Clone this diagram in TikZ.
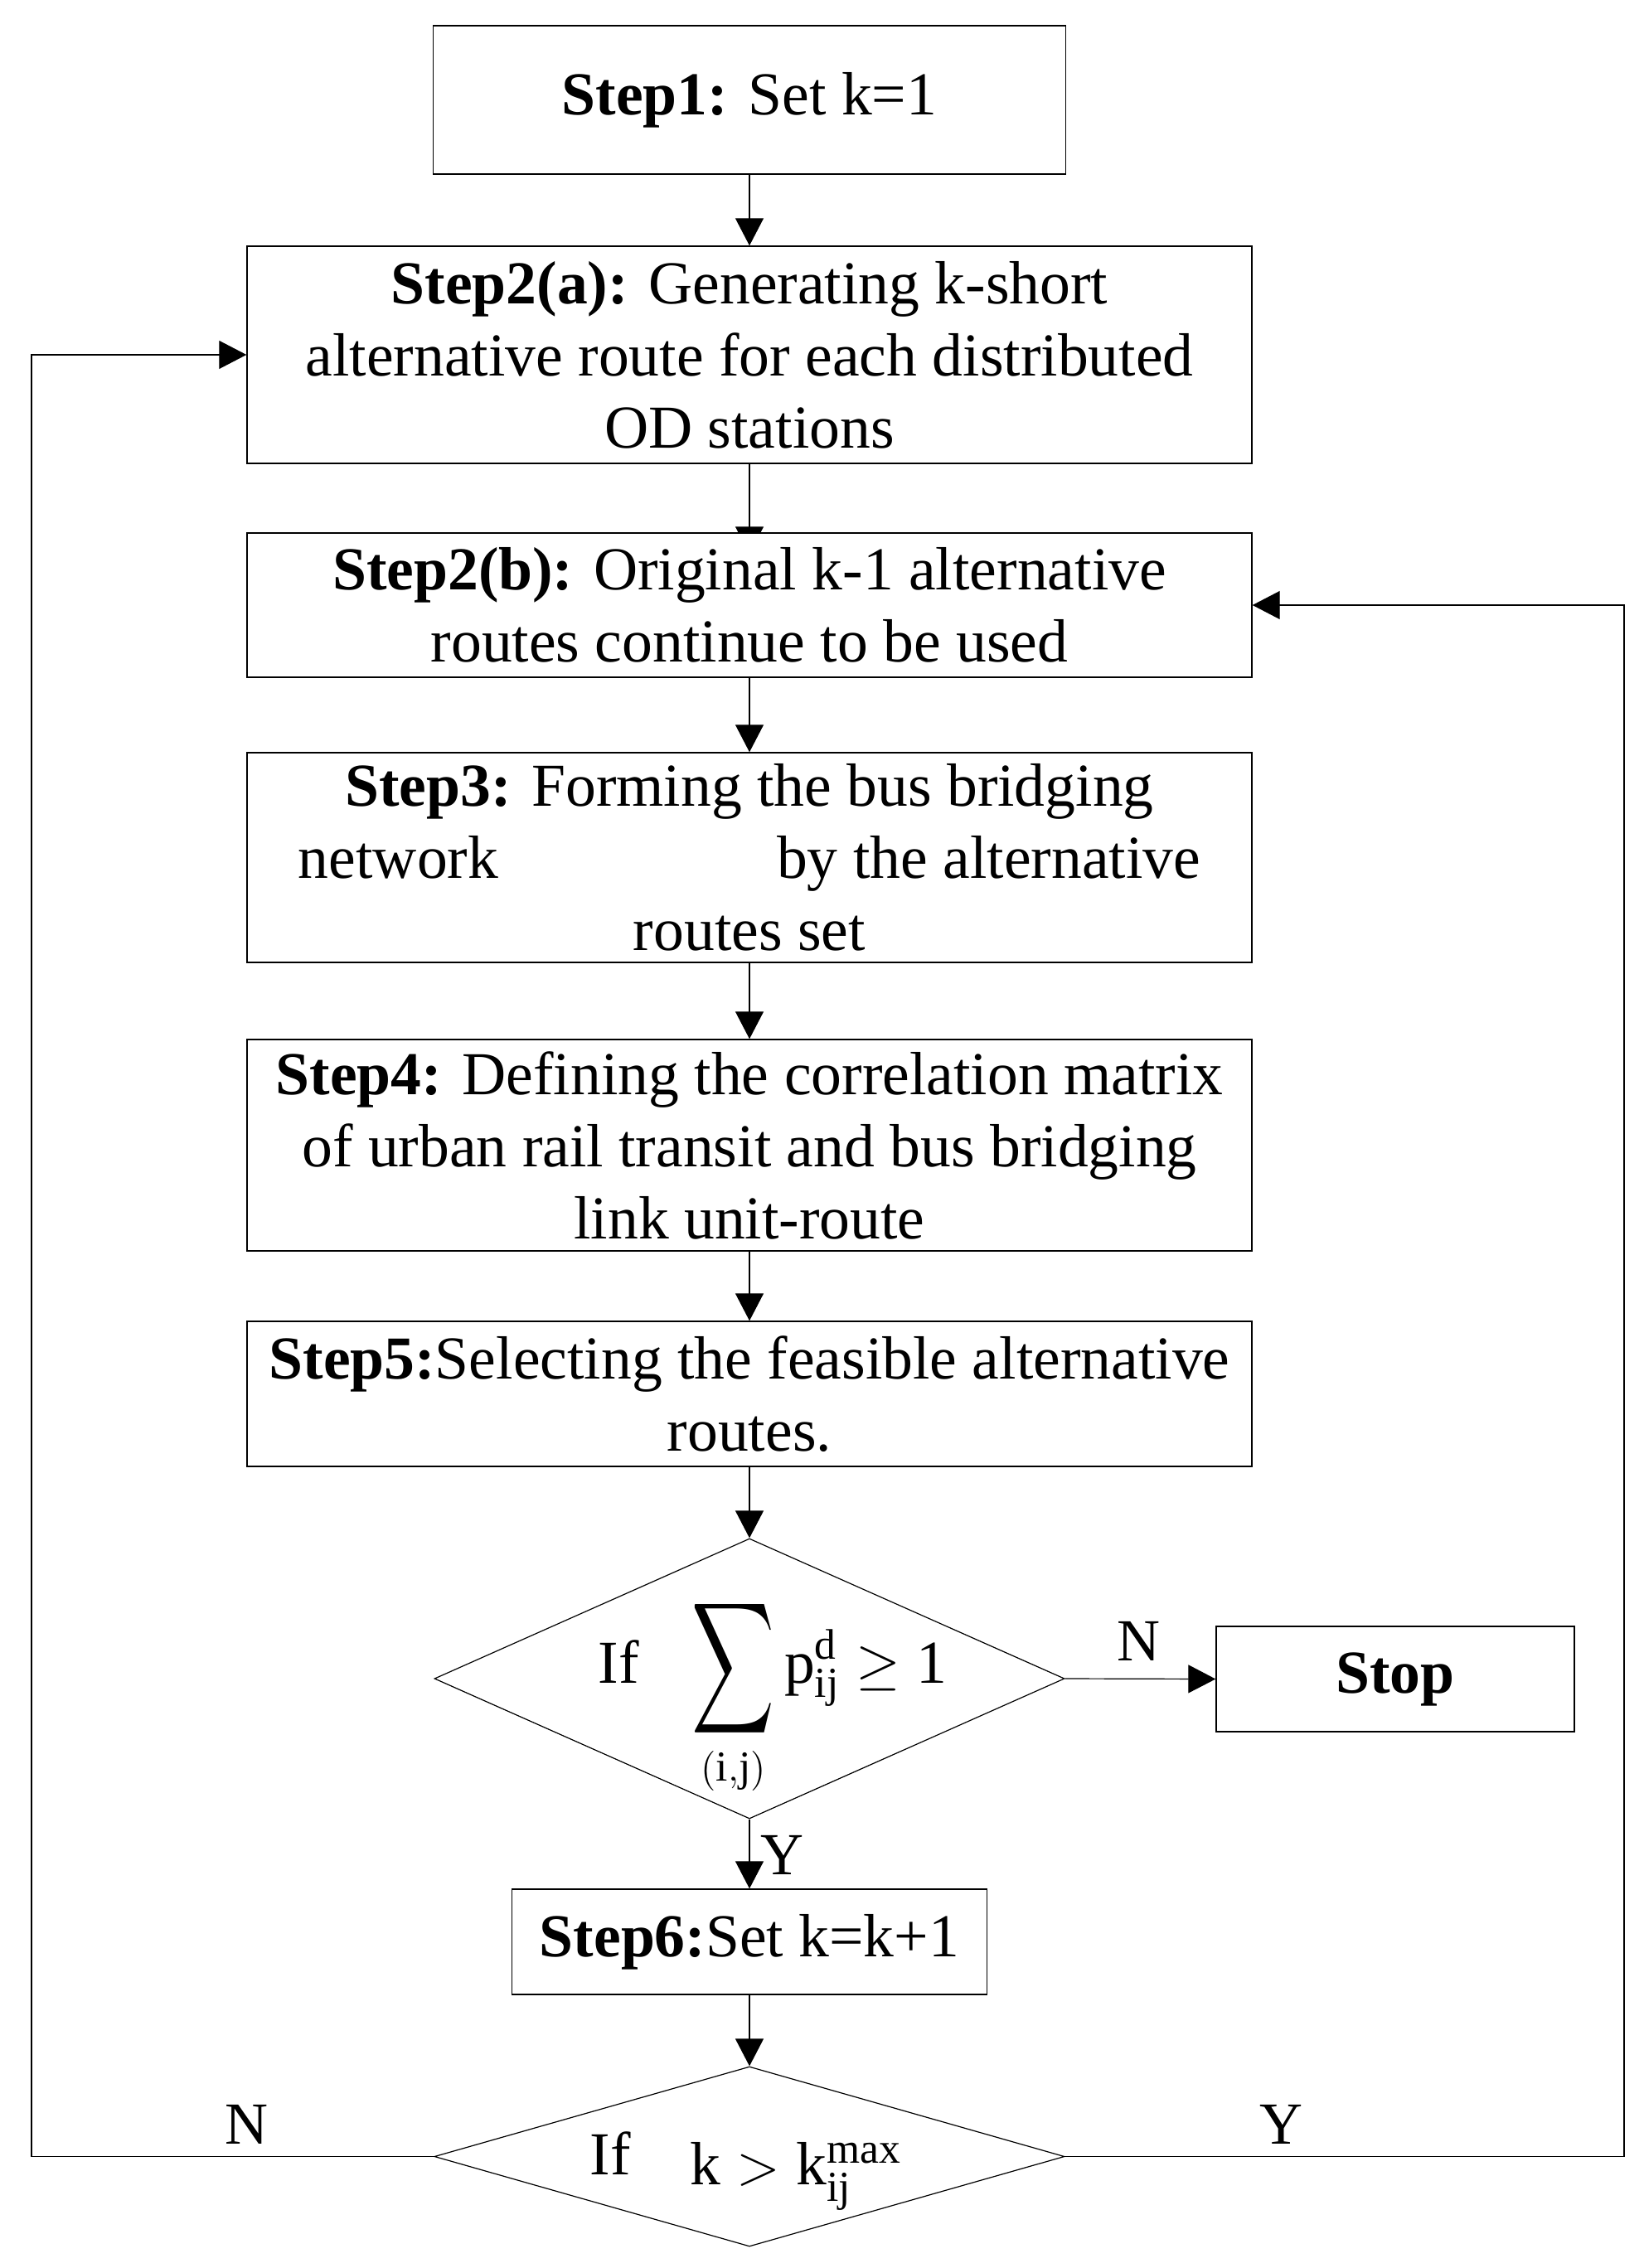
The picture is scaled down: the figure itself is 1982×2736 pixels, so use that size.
\documentclass[tikz,border=0pt]{standalone}
\usepackage{amsmath}
\usepackage{fontspec}
\setmainfont{Liberation Serif}
\usepackage{graphicx}
\usetikzlibrary{shapes.geometric,arrows.meta,backgrounds}
\begin{document}
\begin{tikzpicture}[x=0.25pt,y=-0.25pt,
  txt/.style={font=\fontsize{18.4}{21.75}\selectfont, inner sep=0pt},
  stepbox/.style={draw, line width=0.35pt, fill=white, align=center, inner sep=0pt,
    font=\fontsize{18.4}{21.75}\selectfont, minimum width=303pt},
  decision/.style={diamond, draw, line width=0.3pt, fill=white, inner sep=0pt, minimum width=190pt},
  arr/.style={line width=0.3pt, -{Triangle[length=8.25pt,width=8.5pt]}},
  lbl/.style={font=\fontsize{18}{20}\selectfont, inner sep=0pt}]
\useasboundingbox (0,0) rectangle (1982,2736);

% boxes
\node[stepbox, minimum width=190.75pt, minimum height=44.75pt] (s1) at (904,120.5)
  {\textbf{Step1:} Set k=1};
\node[stepbox, minimum height=65.5pt] (s2a) at (904,428)
  {\textbf{Step2(a):} Generating k-short\\alternative route for each distributed\\OD stations};
\node[stepbox, minimum height=43.5pt] (s2b) at (904,730)
  {\textbf{Step2(b):} Original k-1 alternative\\routes continue to be used};
\node[stepbox, minimum height=63.25pt] (s3) at (904,1034.5)
  {\textbf{Step3:} Forming the bus bridging\\network\hspace{84pt}by the alternative\\routes set};
\node[stepbox, minimum height=63.75pt] (s4) at (904,1381.5)
  {\textbf{Step4:} Defining the correlation matrix\\of urban rail transit and bus bridging\\link unit-route};
\node[stepbox, minimum height=43.75pt] (s5) at (904,1681.5)
  {\textbf{Step5:}Selecting the feasible alternative\\routes.};
\node[decision, minimum height=84.5pt] (d1) at (904,2025) {};
\node[stepbox, minimum width=108pt, minimum height=31.75pt] (stop) at (1683,2025.5)
  {\textbf{Stop}};
\node[stepbox, minimum width=143.25pt, minimum height=31.75pt] (s6) at (904,2342.5)
  {\textbf{Step6:}Set k=k+1};
\node[decision, minimum height=54.25pt] (d2) at (904,2601.5) {};

% decision texts
\node[txt, anchor=base west] (d1t) at (721,2030)
  {If\hspace{16pt}$\displaystyle\mathop{\vcenter{\hbox{\scalebox{1.0}[1.6]{$\displaystyle\sum$}}}}\limits_{(\mathrm{i,j})}\mathrm{p}^{\mathrm{d}}_{\mathrm{ij}}\geq \mathrm{1}$};
\node[txt, anchor=base west] (d2t) at (711,2623)
  {If\hspace{18pt}\raisebox{-3pt}{$\mathrm{k}>\mathrm{k}^{\mathrm{max}}_{\mathrm{ij}}$}};

% labels
\node[lbl] (lN1) at (1373,1980) {N};
\node[lbl] (lY1) at (943,2238) {Y};
\node[lbl] (lN2) at (297,2563) {N};
\node[lbl] (lY2) at (1545,2563) {Y};

\coordinate (L) at (38,2601.5);
\coordinate (R) at (1959,2601.5);

\begin{scope}[on background layer]
\draw[arr] (s1) -- (s2a);
\draw[arr, shorten >=-6.5pt] (s2a) -- (s2b);
\draw[arr] (s2b) -- (s3);
\draw[arr] (s3) -- (s4);
\draw[arr] (s4) -- (s5);
\draw[arr] (s5) -- (d1.north);
\draw[arr] (d1.east) -- (stop.west);
\draw[arr] (d1.south) -- (s6.north);
\draw[arr] (s6) -- (d2.north);
\draw[arr] (d2.west) -- (L) |- (s2a.west);
\draw[arr] (d2.east) -- (R) |- (s2b.east);
\end{scope}
\end{tikzpicture}
\end{document}
